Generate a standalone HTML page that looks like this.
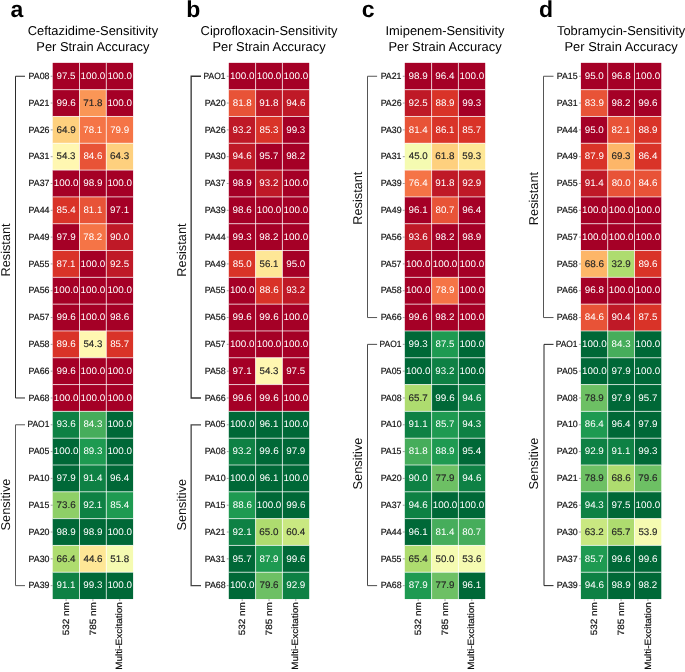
<!DOCTYPE html>
<html><head><meta charset="utf-8"><style>
html,body{margin:0;padding:0;background:#fff;width:685px;height:672px;overflow:hidden}
svg{display:block;will-change:transform;font-family:"Liberation Sans",sans-serif}
</style></head><body>
<svg width="685" height="672" viewBox="0 0 685 672" text-rendering="geometricPrecision">
<rect width="685" height="672" fill="#fff"/>
<text x="10.41" y="16.90" font-size="23" font-weight="bold" fill="#000">a</text>
<text x="92.90" y="34.50" font-size="12.9" text-anchor="middle" fill="#000">Ceftazidime-Sensitivity</text>
<text x="92.90" y="50.70" font-size="12.9" text-anchor="middle" fill="#000">Per Strain Accuracy</text>
<rect x="52.70" y="62.85" width="26.80" height="26.81" fill="#a50026"/>
<rect x="79.50" y="62.85" width="26.80" height="26.81" fill="#a50026"/>
<rect x="106.30" y="62.85" width="26.80" height="26.81" fill="#a50026"/>
<rect x="52.70" y="89.66" width="26.80" height="26.81" fill="#a50026"/>
<rect x="79.50" y="89.66" width="26.80" height="26.81" fill="#fa9656"/>
<rect x="106.30" y="89.66" width="26.80" height="26.81" fill="#a50026"/>
<rect x="52.70" y="116.47" width="26.80" height="26.81" fill="#fed07e"/>
<rect x="79.50" y="116.47" width="26.80" height="26.81" fill="#f57446"/>
<rect x="106.30" y="116.47" width="26.80" height="26.81" fill="#f57446"/>
<rect x="52.70" y="143.28" width="26.80" height="26.81" fill="#fff7b1"/>
<rect x="79.50" y="143.28" width="26.80" height="26.81" fill="#e85337"/>
<rect x="106.30" y="143.28" width="26.80" height="26.81" fill="#fed07e"/>
<rect x="52.70" y="170.09" width="26.80" height="26.81" fill="#a50026"/>
<rect x="79.50" y="170.09" width="26.80" height="26.81" fill="#a50026"/>
<rect x="106.30" y="170.09" width="26.80" height="26.81" fill="#a50026"/>
<rect x="52.70" y="196.90" width="26.80" height="26.81" fill="#d93328"/>
<rect x="79.50" y="196.90" width="26.80" height="26.81" fill="#e85337"/>
<rect x="106.30" y="196.90" width="26.80" height="26.81" fill="#a50026"/>
<rect x="52.70" y="223.71" width="26.80" height="26.81" fill="#a50026"/>
<rect x="79.50" y="223.71" width="26.80" height="26.81" fill="#f57446"/>
<rect x="106.30" y="223.71" width="26.80" height="26.81" fill="#bf1927"/>
<rect x="52.70" y="250.52" width="26.80" height="26.81" fill="#d93328"/>
<rect x="79.50" y="250.52" width="26.80" height="26.81" fill="#a50026"/>
<rect x="106.30" y="250.52" width="26.80" height="26.81" fill="#bf1927"/>
<rect x="52.70" y="277.33" width="26.80" height="26.81" fill="#a50026"/>
<rect x="79.50" y="277.33" width="26.80" height="26.81" fill="#a50026"/>
<rect x="106.30" y="277.33" width="26.80" height="26.81" fill="#a50026"/>
<rect x="52.70" y="304.14" width="26.80" height="26.81" fill="#a50026"/>
<rect x="79.50" y="304.14" width="26.80" height="26.81" fill="#a50026"/>
<rect x="106.30" y="304.14" width="26.80" height="26.81" fill="#a50026"/>
<rect x="52.70" y="330.95" width="26.80" height="26.81" fill="#d93328"/>
<rect x="79.50" y="330.95" width="26.80" height="26.81" fill="#fff7b1"/>
<rect x="106.30" y="330.95" width="26.80" height="26.81" fill="#d93328"/>
<rect x="52.70" y="357.76" width="26.80" height="26.81" fill="#a50026"/>
<rect x="79.50" y="357.76" width="26.80" height="26.81" fill="#a50026"/>
<rect x="106.30" y="357.76" width="26.80" height="26.81" fill="#a50026"/>
<rect x="52.70" y="384.57" width="26.80" height="26.81" fill="#a50026"/>
<rect x="79.50" y="384.57" width="26.80" height="26.81" fill="#a50026"/>
<rect x="106.30" y="384.57" width="26.80" height="26.81" fill="#a50026"/>
<rect x="52.70" y="411.38" width="26.80" height="26.81" fill="#0e8144"/>
<rect x="79.50" y="411.38" width="26.80" height="26.81" fill="#46ad5b"/>
<rect x="106.30" y="411.38" width="26.80" height="26.81" fill="#006837"/>
<rect x="52.70" y="438.19" width="26.80" height="26.81" fill="#006837"/>
<rect x="79.50" y="438.19" width="26.80" height="26.81" fill="#1e9a51"/>
<rect x="106.30" y="438.19" width="26.80" height="26.81" fill="#006837"/>
<rect x="52.70" y="465.00" width="26.80" height="26.81" fill="#006837"/>
<rect x="79.50" y="465.00" width="26.80" height="26.81" fill="#0e8144"/>
<rect x="106.30" y="465.00" width="26.80" height="26.81" fill="#006837"/>
<rect x="52.70" y="491.81" width="26.80" height="26.81" fill="#8ecf67"/>
<rect x="79.50" y="491.81" width="26.80" height="26.81" fill="#0e8144"/>
<rect x="106.30" y="491.81" width="26.80" height="26.81" fill="#1e9a51"/>
<rect x="52.70" y="518.62" width="26.80" height="26.81" fill="#006837"/>
<rect x="79.50" y="518.62" width="26.80" height="26.81" fill="#006837"/>
<rect x="106.30" y="518.62" width="26.80" height="26.81" fill="#006837"/>
<rect x="52.70" y="545.43" width="26.80" height="26.81" fill="#aedc6f"/>
<rect x="79.50" y="545.43" width="26.80" height="26.81" fill="#fee796"/>
<rect x="106.30" y="545.43" width="26.80" height="26.81" fill="#f5fbb1"/>
<rect x="52.70" y="572.24" width="26.80" height="26.81" fill="#0e8144"/>
<rect x="79.50" y="572.24" width="26.80" height="26.81" fill="#006837"/>
<rect x="106.30" y="572.24" width="26.80" height="26.81" fill="#006837"/>
<path d="M79.50,62.85V599.05M106.30,62.85V599.05M52.70,89.66H133.10M52.70,116.47H133.10M52.70,143.28H133.10M52.70,170.09H133.10M52.70,196.90H133.10M52.70,223.71H133.10M52.70,250.52H133.10M52.70,277.33H133.10M52.70,304.14H133.10M52.70,330.95H133.10M52.70,357.76H133.10M52.70,384.57H133.10M52.70,411.38H133.10M52.70,438.19H133.10M52.70,465.00H133.10M52.70,491.81H133.10M52.70,518.62H133.10M52.70,545.43H133.10M52.70,572.24H133.10" stroke="#fff" stroke-width="0.7" fill="none"/>
<text x="66.01" y="78.95" font-size="9.55" text-anchor="middle" textLength="19.056" lengthAdjust="spacingAndGlyphs" fill="#fff">97.5</text>
<text x="92.93" y="78.95" font-size="9.55" text-anchor="middle" textLength="24.657" lengthAdjust="spacingAndGlyphs" fill="#fff">100.0</text>
<text x="119.73" y="78.95" font-size="9.55" text-anchor="middle" textLength="24.657" lengthAdjust="spacingAndGlyphs" fill="#fff">100.0</text>
<text x="39.01" y="78.95" font-size="9.1" text-anchor="middle" textLength="20.913" lengthAdjust="spacingAndGlyphs" fill="#111" stroke="#111" stroke-width="0.2">PA08</text>
<text x="66.11" y="105.77" font-size="9.55" text-anchor="middle" textLength="19.287" lengthAdjust="spacingAndGlyphs" fill="#fff">99.6</text>
<text x="92.92" y="105.77" font-size="9.55" text-anchor="middle" textLength="19.102" lengthAdjust="spacingAndGlyphs" fill="#262626" stroke="#262626" stroke-width="0.15">71.8</text>
<text x="119.73" y="105.77" font-size="9.55" text-anchor="middle" textLength="24.657" lengthAdjust="spacingAndGlyphs" fill="#fff">100.0</text>
<text x="38.97" y="105.77" font-size="9.1" text-anchor="middle" textLength="20.825" lengthAdjust="spacingAndGlyphs" fill="#111" stroke="#111" stroke-width="0.2">PA21</text>
<text x="66.07" y="132.57" font-size="9.55" text-anchor="middle" textLength="19.194" lengthAdjust="spacingAndGlyphs" fill="#262626" stroke="#262626" stroke-width="0.15">64.9</text>
<text x="92.81" y="132.57" font-size="9.55" text-anchor="middle" textLength="18.872" lengthAdjust="spacingAndGlyphs" fill="#fff">78.1</text>
<text x="119.69" y="132.57" font-size="9.55" text-anchor="middle" textLength="19.056" lengthAdjust="spacingAndGlyphs" fill="#fff">79.9</text>
<text x="39.04" y="132.57" font-size="9.1" text-anchor="middle" textLength="21.003" lengthAdjust="spacingAndGlyphs" fill="#111" stroke="#111" stroke-width="0.2">PA26</text>
<text x="66.08" y="159.38" font-size="9.55" text-anchor="middle" textLength="18.908" lengthAdjust="spacingAndGlyphs" fill="#262626" stroke="#262626" stroke-width="0.15">54.3</text>
<text x="92.99" y="159.38" font-size="9.55" text-anchor="middle" textLength="19.137" lengthAdjust="spacingAndGlyphs" fill="#fff">84.6</text>
<text x="119.63" y="159.38" font-size="9.55" text-anchor="middle" textLength="19.102" lengthAdjust="spacingAndGlyphs" fill="#262626" stroke="#262626" stroke-width="0.15">64.3</text>
<text x="38.97" y="159.38" font-size="9.1" text-anchor="middle" textLength="20.825" lengthAdjust="spacingAndGlyphs" fill="#111" stroke="#111" stroke-width="0.2">PA31</text>
<text x="66.13" y="186.19" font-size="9.55" text-anchor="middle" textLength="24.657" lengthAdjust="spacingAndGlyphs" fill="#fff">100.0</text>
<text x="92.87" y="186.19" font-size="9.55" text-anchor="middle" textLength="19.194" lengthAdjust="spacingAndGlyphs" fill="#fff">98.9</text>
<text x="119.73" y="186.19" font-size="9.55" text-anchor="middle" textLength="24.657" lengthAdjust="spacingAndGlyphs" fill="#fff">100.0</text>
<text x="38.99" y="186.19" font-size="9.1" text-anchor="middle" textLength="20.871" lengthAdjust="spacingAndGlyphs" fill="#111" stroke="#111" stroke-width="0.2">PA37</text>
<text x="66.11" y="213.00" font-size="9.55" text-anchor="middle" textLength="18.979" lengthAdjust="spacingAndGlyphs" fill="#fff">85.4</text>
<text x="92.86" y="213.00" font-size="9.55" text-anchor="middle" textLength="18.862" lengthAdjust="spacingAndGlyphs" fill="#fff">81.1</text>
<text x="119.58" y="213.00" font-size="9.55" text-anchor="middle" textLength="19.010" lengthAdjust="spacingAndGlyphs" fill="#fff">97.1</text>
<text x="39.03" y="213.00" font-size="9.1" text-anchor="middle" textLength="20.955" lengthAdjust="spacingAndGlyphs" fill="#111" stroke="#111" stroke-width="0.2">PA44</text>
<text x="66.07" y="239.81" font-size="9.55" text-anchor="middle" textLength="19.194" lengthAdjust="spacingAndGlyphs" fill="#fff">97.9</text>
<text x="92.77" y="239.81" font-size="9.55" text-anchor="middle" textLength="18.780" lengthAdjust="spacingAndGlyphs" fill="#fff">78.2</text>
<text x="119.65" y="239.81" font-size="9.55" text-anchor="middle" textLength="19.137" lengthAdjust="spacingAndGlyphs" fill="#fff">90.0</text>
<text x="39.04" y="239.81" font-size="9.1" text-anchor="middle" textLength="21.007" lengthAdjust="spacingAndGlyphs" fill="#111" stroke="#111" stroke-width="0.2">PA49</text>
<text x="66.06" y="266.62" font-size="9.55" text-anchor="middle" textLength="18.862" lengthAdjust="spacingAndGlyphs" fill="#fff">87.1</text>
<text x="92.93" y="266.62" font-size="9.55" text-anchor="middle" textLength="24.657" lengthAdjust="spacingAndGlyphs" fill="#fff">100.0</text>
<text x="119.61" y="266.62" font-size="9.55" text-anchor="middle" textLength="19.056" lengthAdjust="spacingAndGlyphs" fill="#fff">92.5</text>
<text x="38.94" y="266.62" font-size="9.1" text-anchor="middle" textLength="20.778" lengthAdjust="spacingAndGlyphs" fill="#111" stroke="#111" stroke-width="0.2">PA55</text>
<text x="66.13" y="293.43" font-size="9.55" text-anchor="middle" textLength="24.657" lengthAdjust="spacingAndGlyphs" fill="#fff">100.0</text>
<text x="92.93" y="293.43" font-size="9.55" text-anchor="middle" textLength="24.657" lengthAdjust="spacingAndGlyphs" fill="#fff">100.0</text>
<text x="119.73" y="293.43" font-size="9.55" text-anchor="middle" textLength="24.657" lengthAdjust="spacingAndGlyphs" fill="#fff">100.0</text>
<text x="39.04" y="293.43" font-size="9.1" text-anchor="middle" textLength="21.003" lengthAdjust="spacingAndGlyphs" fill="#111" stroke="#111" stroke-width="0.2">PA56</text>
<text x="66.11" y="320.24" font-size="9.55" text-anchor="middle" textLength="19.287" lengthAdjust="spacingAndGlyphs" fill="#fff">99.6</text>
<text x="92.93" y="320.24" font-size="9.55" text-anchor="middle" textLength="24.657" lengthAdjust="spacingAndGlyphs" fill="#fff">100.0</text>
<text x="119.71" y="320.24" font-size="9.55" text-anchor="middle" textLength="19.287" lengthAdjust="spacingAndGlyphs" fill="#fff">98.6</text>
<text x="38.99" y="320.24" font-size="9.1" text-anchor="middle" textLength="20.871" lengthAdjust="spacingAndGlyphs" fill="#111" stroke="#111" stroke-width="0.2">PA57</text>
<text x="66.18" y="347.05" font-size="9.55" text-anchor="middle" textLength="19.137" lengthAdjust="spacingAndGlyphs" fill="#fff">89.6</text>
<text x="92.88" y="347.05" font-size="9.55" text-anchor="middle" textLength="18.908" lengthAdjust="spacingAndGlyphs" fill="#262626" stroke="#262626" stroke-width="0.15">54.3</text>
<text x="119.68" y="347.05" font-size="9.55" text-anchor="middle" textLength="18.908" lengthAdjust="spacingAndGlyphs" fill="#fff">85.7</text>
<text x="39.03" y="347.05" font-size="9.1" text-anchor="middle" textLength="20.958" lengthAdjust="spacingAndGlyphs" fill="#111" stroke="#111" stroke-width="0.2">PA58</text>
<text x="66.11" y="373.86" font-size="9.55" text-anchor="middle" textLength="19.287" lengthAdjust="spacingAndGlyphs" fill="#fff">99.6</text>
<text x="92.93" y="373.86" font-size="9.55" text-anchor="middle" textLength="24.657" lengthAdjust="spacingAndGlyphs" fill="#fff">100.0</text>
<text x="119.73" y="373.86" font-size="9.55" text-anchor="middle" textLength="24.657" lengthAdjust="spacingAndGlyphs" fill="#fff">100.0</text>
<text x="39.04" y="373.86" font-size="9.1" text-anchor="middle" textLength="21.003" lengthAdjust="spacingAndGlyphs" fill="#111" stroke="#111" stroke-width="0.2">PA66</text>
<text x="66.13" y="400.67" font-size="9.55" text-anchor="middle" textLength="24.657" lengthAdjust="spacingAndGlyphs" fill="#fff">100.0</text>
<text x="92.93" y="400.67" font-size="9.55" text-anchor="middle" textLength="24.657" lengthAdjust="spacingAndGlyphs" fill="#fff">100.0</text>
<text x="119.73" y="400.67" font-size="9.55" text-anchor="middle" textLength="24.657" lengthAdjust="spacingAndGlyphs" fill="#fff">100.0</text>
<text x="39.02" y="400.67" font-size="9.1" text-anchor="middle" textLength="20.958" lengthAdjust="spacingAndGlyphs" fill="#111" stroke="#111" stroke-width="0.2">PA68</text>
<text x="66.12" y="427.48" font-size="9.55" text-anchor="middle" textLength="19.287" lengthAdjust="spacingAndGlyphs" fill="#fff">93.6</text>
<text x="92.90" y="427.48" font-size="9.55" text-anchor="middle" textLength="18.954" lengthAdjust="spacingAndGlyphs" fill="#fff">84.3</text>
<text x="119.73" y="427.48" font-size="9.55" text-anchor="middle" textLength="24.657" lengthAdjust="spacingAndGlyphs" fill="#fff">100.0</text>
<text x="38.39" y="427.48" font-size="9.1" text-anchor="middle" textLength="21.906" lengthAdjust="spacingAndGlyphs" fill="#111" stroke="#111" stroke-width="0.2">PAO1</text>
<text x="66.13" y="454.29" font-size="9.55" text-anchor="middle" textLength="24.657" lengthAdjust="spacingAndGlyphs" fill="#fff">100.0</text>
<text x="92.90" y="454.29" font-size="9.55" text-anchor="middle" textLength="18.954" lengthAdjust="spacingAndGlyphs" fill="#fff">89.3</text>
<text x="119.73" y="454.29" font-size="9.55" text-anchor="middle" textLength="24.657" lengthAdjust="spacingAndGlyphs" fill="#fff">100.0</text>
<text x="38.95" y="454.29" font-size="9.1" text-anchor="middle" textLength="20.778" lengthAdjust="spacingAndGlyphs" fill="#111" stroke="#111" stroke-width="0.2">PA05</text>
<text x="66.07" y="481.10" font-size="9.55" text-anchor="middle" textLength="19.194" lengthAdjust="spacingAndGlyphs" fill="#fff">97.9</text>
<text x="92.84" y="481.10" font-size="9.55" text-anchor="middle" textLength="19.126" lengthAdjust="spacingAndGlyphs" fill="#fff">91.4</text>
<text x="119.64" y="481.10" font-size="9.55" text-anchor="middle" textLength="19.126" lengthAdjust="spacingAndGlyphs" fill="#fff">96.4</text>
<text x="39.03" y="481.10" font-size="9.1" text-anchor="middle" textLength="20.958" lengthAdjust="spacingAndGlyphs" fill="#111" stroke="#111" stroke-width="0.2">PA10</text>
<text x="66.14" y="507.91" font-size="9.55" text-anchor="middle" textLength="19.148" lengthAdjust="spacingAndGlyphs" fill="#262626" stroke="#262626" stroke-width="0.15">73.6</text>
<text x="92.78" y="507.91" font-size="9.55" text-anchor="middle" textLength="19.010" lengthAdjust="spacingAndGlyphs" fill="#fff">92.1</text>
<text x="119.71" y="507.91" font-size="9.55" text-anchor="middle" textLength="18.979" lengthAdjust="spacingAndGlyphs" fill="#fff">85.4</text>
<text x="38.94" y="507.91" font-size="9.1" text-anchor="middle" textLength="20.778" lengthAdjust="spacingAndGlyphs" fill="#111" stroke="#111" stroke-width="0.2">PA15</text>
<text x="66.07" y="534.73" font-size="9.55" text-anchor="middle" textLength="19.194" lengthAdjust="spacingAndGlyphs" fill="#fff">98.9</text>
<text x="92.87" y="534.73" font-size="9.55" text-anchor="middle" textLength="19.194" lengthAdjust="spacingAndGlyphs" fill="#fff">98.9</text>
<text x="119.73" y="534.73" font-size="9.55" text-anchor="middle" textLength="24.657" lengthAdjust="spacingAndGlyphs" fill="#fff">100.0</text>
<text x="39.03" y="534.73" font-size="9.1" text-anchor="middle" textLength="20.958" lengthAdjust="spacingAndGlyphs" fill="#111" stroke="#111" stroke-width="0.2">PA20</text>
<text x="66.04" y="561.53" font-size="9.55" text-anchor="middle" textLength="19.126" lengthAdjust="spacingAndGlyphs" fill="#262626" stroke="#262626" stroke-width="0.15">66.4</text>
<text x="93.00" y="561.53" font-size="9.55" text-anchor="middle" textLength="19.115" lengthAdjust="spacingAndGlyphs" fill="#262626" stroke="#262626" stroke-width="0.15">44.6</text>
<text x="119.75" y="561.53" font-size="9.55" text-anchor="middle" textLength="19.045" lengthAdjust="spacingAndGlyphs" fill="#262626" stroke="#262626" stroke-width="0.15">51.8</text>
<text x="39.04" y="561.53" font-size="9.1" text-anchor="middle" textLength="20.958" lengthAdjust="spacingAndGlyphs" fill="#111" stroke="#111" stroke-width="0.2">PA30</text>
<text x="65.98" y="588.35" font-size="9.55" text-anchor="middle" textLength="19.010" lengthAdjust="spacingAndGlyphs" fill="#fff">91.1</text>
<text x="92.83" y="588.35" font-size="9.55" text-anchor="middle" textLength="19.102" lengthAdjust="spacingAndGlyphs" fill="#fff">99.3</text>
<text x="119.73" y="588.35" font-size="9.55" text-anchor="middle" textLength="24.657" lengthAdjust="spacingAndGlyphs" fill="#fff">100.0</text>
<text x="39.05" y="588.35" font-size="9.1" text-anchor="middle" textLength="21.007" lengthAdjust="spacingAndGlyphs" fill="#111" stroke="#111" stroke-width="0.2">PA39</text>
<text transform="translate(68.70,618.74) rotate(-90)" font-size="9.1" text-anchor="middle" fill="#111" stroke="#111" stroke-width="0.2" textLength="33.206" lengthAdjust="spacingAndGlyphs">532 nm</text>
<text transform="translate(95.50,618.77) rotate(-90)" font-size="9.1" text-anchor="middle" fill="#111" stroke="#111" stroke-width="0.2" textLength="33.264" lengthAdjust="spacingAndGlyphs">785 nm</text>
<text transform="translate(122.30,635.95) rotate(-90)" font-size="9.1" text-anchor="middle" fill="#111" stroke="#111" stroke-width="0.2" textLength="67.735" lengthAdjust="spacingAndGlyphs">Multi-Excitation</text>
<path d="M50.70,76.25H52.70M50.70,103.06H52.70M50.70,129.88H52.70M50.70,156.69H52.70M50.70,183.50H52.70M50.70,210.30H52.70M50.70,237.11H52.70M50.70,263.92H52.70M50.70,290.73H52.70M50.70,317.54H52.70M50.70,344.35H52.70M50.70,371.16H52.70M50.70,397.97H52.70M50.70,424.78H52.70M50.70,451.59H52.70M50.70,478.40H52.70M50.70,505.21H52.70M50.70,532.02H52.70M50.70,558.83H52.70M50.70,585.64H52.70M66.10,599.05V601.05M92.90,599.05V601.05M119.70,599.05V601.05" stroke="#888" stroke-width="0.8" fill="none"/>
<path d="M25.00,76.25H15.50V397.98H25.00" fill="none" stroke="#2b2b2b" stroke-width="1.0"/>
<text transform="translate(9.70,249.96) rotate(-90)" font-size="12.75" text-anchor="middle" fill="#111">Resistant</text>
<path d="M25.00,424.79H15.50V585.64H25.00" fill="none" stroke="#5a5a5a" stroke-width="1.0"/>
<text transform="translate(9.70,504.51) rotate(-90)" font-size="12.75" text-anchor="middle" fill="#111">Sensitive</text>
<text x="186.29" y="16.90" font-size="23" font-weight="bold" fill="#000">b</text>
<text x="269.00" y="34.50" font-size="12.9" text-anchor="middle" fill="#000">Ciprofloxacin-Sensitivity</text>
<text x="269.00" y="50.70" font-size="12.9" text-anchor="middle" fill="#000">Per Strain Accuracy</text>
<rect x="228.80" y="62.85" width="26.80" height="26.81" fill="#a50026"/>
<rect x="255.60" y="62.85" width="26.80" height="26.81" fill="#a50026"/>
<rect x="282.40" y="62.85" width="26.80" height="26.81" fill="#a50026"/>
<rect x="228.80" y="89.66" width="26.80" height="26.81" fill="#e85337"/>
<rect x="255.60" y="89.66" width="26.80" height="26.81" fill="#bf1927"/>
<rect x="282.40" y="89.66" width="26.80" height="26.81" fill="#bf1927"/>
<rect x="228.80" y="116.47" width="26.80" height="26.81" fill="#bf1927"/>
<rect x="255.60" y="116.47" width="26.80" height="26.81" fill="#d93328"/>
<rect x="282.40" y="116.47" width="26.80" height="26.81" fill="#a50026"/>
<rect x="228.80" y="143.28" width="26.80" height="26.81" fill="#bf1927"/>
<rect x="255.60" y="143.28" width="26.80" height="26.81" fill="#a50026"/>
<rect x="282.40" y="143.28" width="26.80" height="26.81" fill="#a50026"/>
<rect x="228.80" y="170.09" width="26.80" height="26.81" fill="#a50026"/>
<rect x="255.60" y="170.09" width="26.80" height="26.81" fill="#bf1927"/>
<rect x="282.40" y="170.09" width="26.80" height="26.81" fill="#a50026"/>
<rect x="228.80" y="196.90" width="26.80" height="26.81" fill="#a50026"/>
<rect x="255.60" y="196.90" width="26.80" height="26.81" fill="#a50026"/>
<rect x="282.40" y="196.90" width="26.80" height="26.81" fill="#a50026"/>
<rect x="228.80" y="223.71" width="26.80" height="26.81" fill="#a50026"/>
<rect x="255.60" y="223.71" width="26.80" height="26.81" fill="#a50026"/>
<rect x="282.40" y="223.71" width="26.80" height="26.81" fill="#a50026"/>
<rect x="228.80" y="250.52" width="26.80" height="26.81" fill="#d93328"/>
<rect x="255.60" y="250.52" width="26.80" height="26.81" fill="#fee796"/>
<rect x="282.40" y="250.52" width="26.80" height="26.81" fill="#a50026"/>
<rect x="228.80" y="277.33" width="26.80" height="26.81" fill="#a50026"/>
<rect x="255.60" y="277.33" width="26.80" height="26.81" fill="#d93328"/>
<rect x="282.40" y="277.33" width="26.80" height="26.81" fill="#bf1927"/>
<rect x="228.80" y="304.14" width="26.80" height="26.81" fill="#a50026"/>
<rect x="255.60" y="304.14" width="26.80" height="26.81" fill="#a50026"/>
<rect x="282.40" y="304.14" width="26.80" height="26.81" fill="#a50026"/>
<rect x="228.80" y="330.95" width="26.80" height="26.81" fill="#a50026"/>
<rect x="255.60" y="330.95" width="26.80" height="26.81" fill="#a50026"/>
<rect x="282.40" y="330.95" width="26.80" height="26.81" fill="#a50026"/>
<rect x="228.80" y="357.76" width="26.80" height="26.81" fill="#a50026"/>
<rect x="255.60" y="357.76" width="26.80" height="26.81" fill="#fff7b1"/>
<rect x="282.40" y="357.76" width="26.80" height="26.81" fill="#a50026"/>
<rect x="228.80" y="384.57" width="26.80" height="26.81" fill="#a50026"/>
<rect x="255.60" y="384.57" width="26.80" height="26.81" fill="#a50026"/>
<rect x="282.40" y="384.57" width="26.80" height="26.81" fill="#a50026"/>
<rect x="228.80" y="411.38" width="26.80" height="26.81" fill="#006837"/>
<rect x="255.60" y="411.38" width="26.80" height="26.81" fill="#006837"/>
<rect x="282.40" y="411.38" width="26.80" height="26.81" fill="#006837"/>
<rect x="228.80" y="438.19" width="26.80" height="26.81" fill="#0e8144"/>
<rect x="255.60" y="438.19" width="26.80" height="26.81" fill="#006837"/>
<rect x="282.40" y="438.19" width="26.80" height="26.81" fill="#006837"/>
<rect x="228.80" y="465.00" width="26.80" height="26.81" fill="#006837"/>
<rect x="255.60" y="465.00" width="26.80" height="26.81" fill="#006837"/>
<rect x="282.40" y="465.00" width="26.80" height="26.81" fill="#006837"/>
<rect x="228.80" y="491.81" width="26.80" height="26.81" fill="#1e9a51"/>
<rect x="255.60" y="491.81" width="26.80" height="26.81" fill="#006837"/>
<rect x="282.40" y="491.81" width="26.80" height="26.81" fill="#006837"/>
<rect x="228.80" y="518.62" width="26.80" height="26.81" fill="#0e8144"/>
<rect x="255.60" y="518.62" width="26.80" height="26.81" fill="#aedc6f"/>
<rect x="282.40" y="518.62" width="26.80" height="26.81" fill="#c9e881"/>
<rect x="228.80" y="545.43" width="26.80" height="26.81" fill="#006837"/>
<rect x="255.60" y="545.43" width="26.80" height="26.81" fill="#1e9a51"/>
<rect x="282.40" y="545.43" width="26.80" height="26.81" fill="#006837"/>
<rect x="228.80" y="572.24" width="26.80" height="26.81" fill="#006837"/>
<rect x="255.60" y="572.24" width="26.80" height="26.81" fill="#6dc064"/>
<rect x="282.40" y="572.24" width="26.80" height="26.81" fill="#0e8144"/>
<path d="M255.60,62.85V599.05M282.40,62.85V599.05M228.80,89.66H309.20M228.80,116.47H309.20M228.80,143.28H309.20M228.80,170.09H309.20M228.80,196.90H309.20M228.80,223.71H309.20M228.80,250.52H309.20M228.80,277.33H309.20M228.80,304.14H309.20M228.80,330.95H309.20M228.80,357.76H309.20M228.80,384.57H309.20M228.80,411.38H309.20M228.80,438.19H309.20M228.80,465.00H309.20M228.80,491.81H309.20M228.80,518.62H309.20M228.80,545.43H309.20M228.80,572.24H309.20" stroke="#fff" stroke-width="0.7" fill="none"/>
<text x="242.23" y="78.95" font-size="9.55" text-anchor="middle" textLength="24.657" lengthAdjust="spacingAndGlyphs" fill="#fff">100.0</text>
<text x="269.03" y="78.95" font-size="9.55" text-anchor="middle" textLength="24.657" lengthAdjust="spacingAndGlyphs" fill="#fff">100.0</text>
<text x="295.83" y="78.95" font-size="9.55" text-anchor="middle" textLength="24.657" lengthAdjust="spacingAndGlyphs" fill="#fff">100.0</text>
<text x="214.49" y="78.95" font-size="9.1" text-anchor="middle" textLength="21.906" lengthAdjust="spacingAndGlyphs" fill="#111" stroke="#111" stroke-width="0.2">PAO1</text>
<text x="242.27" y="105.77" font-size="9.55" text-anchor="middle" textLength="19.091" lengthAdjust="spacingAndGlyphs" fill="#fff">81.8</text>
<text x="268.99" y="105.77" font-size="9.55" text-anchor="middle" textLength="19.240" lengthAdjust="spacingAndGlyphs" fill="#fff">91.8</text>
<text x="295.81" y="105.77" font-size="9.55" text-anchor="middle" textLength="19.287" lengthAdjust="spacingAndGlyphs" fill="#fff">94.6</text>
<text x="215.13" y="105.77" font-size="9.1" text-anchor="middle" textLength="20.958" lengthAdjust="spacingAndGlyphs" fill="#111" stroke="#111" stroke-width="0.2">PA20</text>
<text x="242.04" y="132.57" font-size="9.55" text-anchor="middle" textLength="18.918" lengthAdjust="spacingAndGlyphs" fill="#fff">93.2</text>
<text x="269.00" y="132.57" font-size="9.55" text-anchor="middle" textLength="18.954" lengthAdjust="spacingAndGlyphs" fill="#fff">85.3</text>
<text x="295.73" y="132.57" font-size="9.55" text-anchor="middle" textLength="19.102" lengthAdjust="spacingAndGlyphs" fill="#fff">99.3</text>
<text x="215.14" y="132.57" font-size="9.1" text-anchor="middle" textLength="21.003" lengthAdjust="spacingAndGlyphs" fill="#111" stroke="#111" stroke-width="0.2">PA26</text>
<text x="242.21" y="159.38" font-size="9.55" text-anchor="middle" textLength="19.287" lengthAdjust="spacingAndGlyphs" fill="#fff">94.6</text>
<text x="268.91" y="159.38" font-size="9.55" text-anchor="middle" textLength="19.056" lengthAdjust="spacingAndGlyphs" fill="#fff">95.7</text>
<text x="295.66" y="159.38" font-size="9.55" text-anchor="middle" textLength="18.964" lengthAdjust="spacingAndGlyphs" fill="#fff">98.2</text>
<text x="215.14" y="159.38" font-size="9.1" text-anchor="middle" textLength="20.958" lengthAdjust="spacingAndGlyphs" fill="#111" stroke="#111" stroke-width="0.2">PA30</text>
<text x="242.17" y="186.19" font-size="9.55" text-anchor="middle" textLength="19.194" lengthAdjust="spacingAndGlyphs" fill="#fff">98.9</text>
<text x="268.84" y="186.19" font-size="9.55" text-anchor="middle" textLength="18.918" lengthAdjust="spacingAndGlyphs" fill="#fff">93.2</text>
<text x="295.83" y="186.19" font-size="9.55" text-anchor="middle" textLength="24.657" lengthAdjust="spacingAndGlyphs" fill="#fff">100.0</text>
<text x="215.09" y="186.19" font-size="9.1" text-anchor="middle" textLength="20.871" lengthAdjust="spacingAndGlyphs" fill="#111" stroke="#111" stroke-width="0.2">PA37</text>
<text x="242.21" y="213.00" font-size="9.55" text-anchor="middle" textLength="19.287" lengthAdjust="spacingAndGlyphs" fill="#fff">98.6</text>
<text x="269.03" y="213.00" font-size="9.55" text-anchor="middle" textLength="24.657" lengthAdjust="spacingAndGlyphs" fill="#fff">100.0</text>
<text x="295.83" y="213.00" font-size="9.55" text-anchor="middle" textLength="24.657" lengthAdjust="spacingAndGlyphs" fill="#fff">100.0</text>
<text x="215.15" y="213.00" font-size="9.1" text-anchor="middle" textLength="21.007" lengthAdjust="spacingAndGlyphs" fill="#111" stroke="#111" stroke-width="0.2">PA39</text>
<text x="242.13" y="239.81" font-size="9.55" text-anchor="middle" textLength="19.102" lengthAdjust="spacingAndGlyphs" fill="#fff">99.3</text>
<text x="268.86" y="239.81" font-size="9.55" text-anchor="middle" textLength="18.964" lengthAdjust="spacingAndGlyphs" fill="#fff">98.2</text>
<text x="295.83" y="239.81" font-size="9.55" text-anchor="middle" textLength="24.657" lengthAdjust="spacingAndGlyphs" fill="#fff">100.0</text>
<text x="215.13" y="239.81" font-size="9.1" text-anchor="middle" textLength="20.955" lengthAdjust="spacingAndGlyphs" fill="#111" stroke="#111" stroke-width="0.2">PA44</text>
<text x="242.22" y="266.62" font-size="9.55" text-anchor="middle" textLength="18.989" lengthAdjust="spacingAndGlyphs" fill="#fff">85.0</text>
<text x="268.93" y="266.62" font-size="9.55" text-anchor="middle" textLength="18.817" lengthAdjust="spacingAndGlyphs" fill="#262626" stroke="#262626" stroke-width="0.15">56.1</text>
<text x="295.75" y="266.62" font-size="9.55" text-anchor="middle" textLength="19.137" lengthAdjust="spacingAndGlyphs" fill="#fff">95.0</text>
<text x="215.14" y="266.62" font-size="9.1" text-anchor="middle" textLength="21.007" lengthAdjust="spacingAndGlyphs" fill="#111" stroke="#111" stroke-width="0.2">PA49</text>
<text x="242.23" y="293.43" font-size="9.55" text-anchor="middle" textLength="24.657" lengthAdjust="spacingAndGlyphs" fill="#fff">100.0</text>
<text x="269.09" y="293.43" font-size="9.55" text-anchor="middle" textLength="19.137" lengthAdjust="spacingAndGlyphs" fill="#fff">88.6</text>
<text x="295.64" y="293.43" font-size="9.55" text-anchor="middle" textLength="18.918" lengthAdjust="spacingAndGlyphs" fill="#fff">93.2</text>
<text x="215.04" y="293.43" font-size="9.1" text-anchor="middle" textLength="20.778" lengthAdjust="spacingAndGlyphs" fill="#111" stroke="#111" stroke-width="0.2">PA55</text>
<text x="242.21" y="320.24" font-size="9.55" text-anchor="middle" textLength="19.287" lengthAdjust="spacingAndGlyphs" fill="#fff">99.6</text>
<text x="269.01" y="320.24" font-size="9.55" text-anchor="middle" textLength="19.287" lengthAdjust="spacingAndGlyphs" fill="#fff">99.6</text>
<text x="295.83" y="320.24" font-size="9.55" text-anchor="middle" textLength="24.657" lengthAdjust="spacingAndGlyphs" fill="#fff">100.0</text>
<text x="215.14" y="320.24" font-size="9.1" text-anchor="middle" textLength="21.003" lengthAdjust="spacingAndGlyphs" fill="#111" stroke="#111" stroke-width="0.2">PA56</text>
<text x="242.23" y="347.05" font-size="9.55" text-anchor="middle" textLength="24.657" lengthAdjust="spacingAndGlyphs" fill="#fff">100.0</text>
<text x="269.03" y="347.05" font-size="9.55" text-anchor="middle" textLength="24.657" lengthAdjust="spacingAndGlyphs" fill="#fff">100.0</text>
<text x="295.83" y="347.05" font-size="9.55" text-anchor="middle" textLength="24.657" lengthAdjust="spacingAndGlyphs" fill="#fff">100.0</text>
<text x="215.09" y="347.05" font-size="9.1" text-anchor="middle" textLength="20.871" lengthAdjust="spacingAndGlyphs" fill="#111" stroke="#111" stroke-width="0.2">PA57</text>
<text x="242.08" y="373.86" font-size="9.55" text-anchor="middle" textLength="19.010" lengthAdjust="spacingAndGlyphs" fill="#fff">97.1</text>
<text x="268.98" y="373.86" font-size="9.55" text-anchor="middle" textLength="18.908" lengthAdjust="spacingAndGlyphs" fill="#262626" stroke="#262626" stroke-width="0.15">54.3</text>
<text x="295.71" y="373.86" font-size="9.55" text-anchor="middle" textLength="19.056" lengthAdjust="spacingAndGlyphs" fill="#fff">97.5</text>
<text x="215.13" y="373.86" font-size="9.1" text-anchor="middle" textLength="20.958" lengthAdjust="spacingAndGlyphs" fill="#111" stroke="#111" stroke-width="0.2">PA58</text>
<text x="242.21" y="400.67" font-size="9.55" text-anchor="middle" textLength="19.287" lengthAdjust="spacingAndGlyphs" fill="#fff">99.6</text>
<text x="269.01" y="400.67" font-size="9.55" text-anchor="middle" textLength="19.287" lengthAdjust="spacingAndGlyphs" fill="#fff">99.6</text>
<text x="295.83" y="400.67" font-size="9.55" text-anchor="middle" textLength="24.657" lengthAdjust="spacingAndGlyphs" fill="#fff">100.0</text>
<text x="215.14" y="400.67" font-size="9.1" text-anchor="middle" textLength="21.003" lengthAdjust="spacingAndGlyphs" fill="#111" stroke="#111" stroke-width="0.2">PA66</text>
<text x="242.23" y="427.48" font-size="9.55" text-anchor="middle" textLength="24.657" lengthAdjust="spacingAndGlyphs" fill="#fff">100.0</text>
<text x="268.88" y="427.48" font-size="9.55" text-anchor="middle" textLength="19.010" lengthAdjust="spacingAndGlyphs" fill="#fff">96.1</text>
<text x="295.83" y="427.48" font-size="9.55" text-anchor="middle" textLength="24.657" lengthAdjust="spacingAndGlyphs" fill="#fff">100.0</text>
<text x="215.05" y="427.48" font-size="9.1" text-anchor="middle" textLength="20.778" lengthAdjust="spacingAndGlyphs" fill="#111" stroke="#111" stroke-width="0.2">PA05</text>
<text x="242.04" y="454.29" font-size="9.55" text-anchor="middle" textLength="18.918" lengthAdjust="spacingAndGlyphs" fill="#fff">93.2</text>
<text x="269.01" y="454.29" font-size="9.55" text-anchor="middle" textLength="19.287" lengthAdjust="spacingAndGlyphs" fill="#fff">99.6</text>
<text x="295.77" y="454.29" font-size="9.55" text-anchor="middle" textLength="19.194" lengthAdjust="spacingAndGlyphs" fill="#fff">97.9</text>
<text x="215.11" y="454.29" font-size="9.1" text-anchor="middle" textLength="20.913" lengthAdjust="spacingAndGlyphs" fill="#111" stroke="#111" stroke-width="0.2">PA08</text>
<text x="242.23" y="481.10" font-size="9.55" text-anchor="middle" textLength="24.657" lengthAdjust="spacingAndGlyphs" fill="#fff">100.0</text>
<text x="268.88" y="481.10" font-size="9.55" text-anchor="middle" textLength="19.010" lengthAdjust="spacingAndGlyphs" fill="#fff">96.1</text>
<text x="295.83" y="481.10" font-size="9.55" text-anchor="middle" textLength="24.657" lengthAdjust="spacingAndGlyphs" fill="#fff">100.0</text>
<text x="215.13" y="481.10" font-size="9.1" text-anchor="middle" textLength="20.958" lengthAdjust="spacingAndGlyphs" fill="#111" stroke="#111" stroke-width="0.2">PA10</text>
<text x="242.29" y="507.91" font-size="9.55" text-anchor="middle" textLength="19.137" lengthAdjust="spacingAndGlyphs" fill="#fff">88.6</text>
<text x="269.03" y="507.91" font-size="9.55" text-anchor="middle" textLength="24.657" lengthAdjust="spacingAndGlyphs" fill="#fff">100.0</text>
<text x="295.81" y="507.91" font-size="9.55" text-anchor="middle" textLength="19.287" lengthAdjust="spacingAndGlyphs" fill="#fff">99.6</text>
<text x="215.04" y="507.91" font-size="9.1" text-anchor="middle" textLength="20.778" lengthAdjust="spacingAndGlyphs" fill="#111" stroke="#111" stroke-width="0.2">PA15</text>
<text x="242.08" y="534.73" font-size="9.55" text-anchor="middle" textLength="19.010" lengthAdjust="spacingAndGlyphs" fill="#fff">92.1</text>
<text x="268.95" y="534.73" font-size="9.55" text-anchor="middle" textLength="19.137" lengthAdjust="spacingAndGlyphs" fill="#262626" stroke="#262626" stroke-width="0.15">65.0</text>
<text x="295.74" y="534.73" font-size="9.55" text-anchor="middle" textLength="19.126" lengthAdjust="spacingAndGlyphs" fill="#262626" stroke="#262626" stroke-width="0.15">60.4</text>
<text x="215.07" y="534.73" font-size="9.1" text-anchor="middle" textLength="20.825" lengthAdjust="spacingAndGlyphs" fill="#111" stroke="#111" stroke-width="0.2">PA21</text>
<text x="242.11" y="561.53" font-size="9.55" text-anchor="middle" textLength="19.056" lengthAdjust="spacingAndGlyphs" fill="#fff">95.7</text>
<text x="269.04" y="561.53" font-size="9.55" text-anchor="middle" textLength="19.045" lengthAdjust="spacingAndGlyphs" fill="#fff">87.9</text>
<text x="295.81" y="561.53" font-size="9.55" text-anchor="middle" textLength="19.287" lengthAdjust="spacingAndGlyphs" fill="#fff">99.6</text>
<text x="215.07" y="561.53" font-size="9.1" text-anchor="middle" textLength="20.825" lengthAdjust="spacingAndGlyphs" fill="#111" stroke="#111" stroke-width="0.2">PA31</text>
<text x="242.23" y="588.35" font-size="9.55" text-anchor="middle" textLength="24.657" lengthAdjust="spacingAndGlyphs" fill="#fff">100.0</text>
<text x="269.03" y="588.35" font-size="9.55" text-anchor="middle" textLength="19.148" lengthAdjust="spacingAndGlyphs" fill="#262626" stroke="#262626" stroke-width="0.15">79.6</text>
<text x="295.77" y="588.35" font-size="9.55" text-anchor="middle" textLength="19.194" lengthAdjust="spacingAndGlyphs" fill="#fff">92.9</text>
<text x="215.12" y="588.35" font-size="9.1" text-anchor="middle" textLength="20.958" lengthAdjust="spacingAndGlyphs" fill="#111" stroke="#111" stroke-width="0.2">PA68</text>
<text transform="translate(244.80,618.74) rotate(-90)" font-size="9.1" text-anchor="middle" fill="#111" stroke="#111" stroke-width="0.2" textLength="33.206" lengthAdjust="spacingAndGlyphs">532 nm</text>
<text transform="translate(271.60,618.77) rotate(-90)" font-size="9.1" text-anchor="middle" fill="#111" stroke="#111" stroke-width="0.2" textLength="33.264" lengthAdjust="spacingAndGlyphs">785 nm</text>
<text transform="translate(298.40,635.95) rotate(-90)" font-size="9.1" text-anchor="middle" fill="#111" stroke="#111" stroke-width="0.2" textLength="67.735" lengthAdjust="spacingAndGlyphs">Multi-Excitation</text>
<path d="M226.80,76.25H228.80M226.80,103.06H228.80M226.80,129.88H228.80M226.80,156.69H228.80M226.80,183.50H228.80M226.80,210.30H228.80M226.80,237.11H228.80M226.80,263.92H228.80M226.80,290.73H228.80M226.80,317.54H228.80M226.80,344.35H228.80M226.80,371.16H228.80M226.80,397.97H228.80M226.80,424.78H228.80M226.80,451.59H228.80M226.80,478.40H228.80M226.80,505.21H228.80M226.80,532.02H228.80M226.80,558.83H228.80M226.80,585.64H228.80M242.20,599.05V601.05M269.00,599.05V601.05M295.80,599.05V601.05" stroke="#888" stroke-width="0.8" fill="none"/>
<path d="M201.00,76.25H191.15V397.98H201.00" fill="none" stroke="#333" stroke-width="1.3"/>
<text transform="translate(185.80,250.06) rotate(-90)" font-size="12.75" text-anchor="middle" fill="#111">Resistant</text>
<path d="M201.00,424.79H191.15V585.64H201.00" fill="none" stroke="#444" stroke-width="1.3"/>
<text transform="translate(185.80,504.71) rotate(-90)" font-size="12.75" text-anchor="middle" fill="#111">Sensitive</text>
<text x="361.78" y="16.90" font-size="23" font-weight="bold" fill="#000">c</text>
<text x="445.00" y="34.50" font-size="12.9" text-anchor="middle" fill="#000">Imipenem-Sensitivity</text>
<text x="445.00" y="50.70" font-size="12.9" text-anchor="middle" fill="#000">Per Strain Accuracy</text>
<rect x="404.80" y="62.85" width="26.80" height="26.81" fill="#a50026"/>
<rect x="431.60" y="62.85" width="26.80" height="26.81" fill="#a50026"/>
<rect x="458.40" y="62.85" width="26.80" height="26.81" fill="#a50026"/>
<rect x="404.80" y="89.66" width="26.80" height="26.81" fill="#bf1927"/>
<rect x="431.60" y="89.66" width="26.80" height="26.81" fill="#d93328"/>
<rect x="458.40" y="89.66" width="26.80" height="26.81" fill="#a50026"/>
<rect x="404.80" y="116.47" width="26.80" height="26.81" fill="#e85337"/>
<rect x="431.60" y="116.47" width="26.80" height="26.81" fill="#d93328"/>
<rect x="458.40" y="116.47" width="26.80" height="26.81" fill="#d93328"/>
<rect x="404.80" y="143.28" width="26.80" height="26.81" fill="#f5fbb1"/>
<rect x="431.60" y="143.28" width="26.80" height="26.81" fill="#fed07e"/>
<rect x="458.40" y="143.28" width="26.80" height="26.81" fill="#fee796"/>
<rect x="404.80" y="170.09" width="26.80" height="26.81" fill="#f57446"/>
<rect x="431.60" y="170.09" width="26.80" height="26.81" fill="#bf1927"/>
<rect x="458.40" y="170.09" width="26.80" height="26.81" fill="#bf1927"/>
<rect x="404.80" y="196.90" width="26.80" height="26.81" fill="#a50026"/>
<rect x="431.60" y="196.90" width="26.80" height="26.81" fill="#e85337"/>
<rect x="458.40" y="196.90" width="26.80" height="26.81" fill="#a50026"/>
<rect x="404.80" y="223.71" width="26.80" height="26.81" fill="#bf1927"/>
<rect x="431.60" y="223.71" width="26.80" height="26.81" fill="#a50026"/>
<rect x="458.40" y="223.71" width="26.80" height="26.81" fill="#a50026"/>
<rect x="404.80" y="250.52" width="26.80" height="26.81" fill="#a50026"/>
<rect x="431.60" y="250.52" width="26.80" height="26.81" fill="#a50026"/>
<rect x="458.40" y="250.52" width="26.80" height="26.81" fill="#a50026"/>
<rect x="404.80" y="277.33" width="26.80" height="26.81" fill="#a50026"/>
<rect x="431.60" y="277.33" width="26.80" height="26.81" fill="#f57446"/>
<rect x="458.40" y="277.33" width="26.80" height="26.81" fill="#a50026"/>
<rect x="404.80" y="304.14" width="26.80" height="26.81" fill="#a50026"/>
<rect x="431.60" y="304.14" width="26.80" height="26.81" fill="#a50026"/>
<rect x="458.40" y="304.14" width="26.80" height="26.81" fill="#a50026"/>
<rect x="404.80" y="330.95" width="26.80" height="26.81" fill="#006837"/>
<rect x="431.60" y="330.95" width="26.80" height="26.81" fill="#1e9a51"/>
<rect x="458.40" y="330.95" width="26.80" height="26.81" fill="#006837"/>
<rect x="404.80" y="357.76" width="26.80" height="26.81" fill="#006837"/>
<rect x="431.60" y="357.76" width="26.80" height="26.81" fill="#0e8144"/>
<rect x="458.40" y="357.76" width="26.80" height="26.81" fill="#006837"/>
<rect x="404.80" y="384.57" width="26.80" height="26.81" fill="#aedc6f"/>
<rect x="431.60" y="384.57" width="26.80" height="26.81" fill="#006837"/>
<rect x="458.40" y="384.57" width="26.80" height="26.81" fill="#0e8144"/>
<rect x="404.80" y="411.38" width="26.80" height="26.81" fill="#0e8144"/>
<rect x="431.60" y="411.38" width="26.80" height="26.81" fill="#1e9a51"/>
<rect x="458.40" y="411.38" width="26.80" height="26.81" fill="#0e8144"/>
<rect x="404.80" y="438.19" width="26.80" height="26.81" fill="#46ad5b"/>
<rect x="431.60" y="438.19" width="26.80" height="26.81" fill="#1e9a51"/>
<rect x="458.40" y="438.19" width="26.80" height="26.81" fill="#006837"/>
<rect x="404.80" y="465.00" width="26.80" height="26.81" fill="#0e8144"/>
<rect x="431.60" y="465.00" width="26.80" height="26.81" fill="#6dc064"/>
<rect x="458.40" y="465.00" width="26.80" height="26.81" fill="#0e8144"/>
<rect x="404.80" y="491.81" width="26.80" height="26.81" fill="#0e8144"/>
<rect x="431.60" y="491.81" width="26.80" height="26.81" fill="#006837"/>
<rect x="458.40" y="491.81" width="26.80" height="26.81" fill="#006837"/>
<rect x="404.80" y="518.62" width="26.80" height="26.81" fill="#006837"/>
<rect x="431.60" y="518.62" width="26.80" height="26.81" fill="#46ad5b"/>
<rect x="458.40" y="518.62" width="26.80" height="26.81" fill="#46ad5b"/>
<rect x="404.80" y="545.43" width="26.80" height="26.81" fill="#aedc6f"/>
<rect x="431.60" y="545.43" width="26.80" height="26.81" fill="#f5fbb1"/>
<rect x="458.40" y="545.43" width="26.80" height="26.81" fill="#f5fbb1"/>
<rect x="404.80" y="572.24" width="26.80" height="26.81" fill="#1e9a51"/>
<rect x="431.60" y="572.24" width="26.80" height="26.81" fill="#6dc064"/>
<rect x="458.40" y="572.24" width="26.80" height="26.81" fill="#006837"/>
<path d="M431.60,62.85V599.05M458.40,62.85V599.05M404.80,89.66H485.20M404.80,116.47H485.20M404.80,143.28H485.20M404.80,170.09H485.20M404.80,196.90H485.20M404.80,223.71H485.20M404.80,250.52H485.20M404.80,277.33H485.20M404.80,304.14H485.20M404.80,330.95H485.20M404.80,357.76H485.20M404.80,384.57H485.20M404.80,411.38H485.20M404.80,438.19H485.20M404.80,465.00H485.20M404.80,491.81H485.20M404.80,518.62H485.20M404.80,545.43H485.20M404.80,572.24H485.20" stroke="#fff" stroke-width="0.7" fill="none"/>
<text x="418.17" y="78.95" font-size="9.55" text-anchor="middle" textLength="19.194" lengthAdjust="spacingAndGlyphs" fill="#fff">98.9</text>
<text x="444.94" y="78.95" font-size="9.55" text-anchor="middle" textLength="19.126" lengthAdjust="spacingAndGlyphs" fill="#fff">96.4</text>
<text x="471.83" y="78.95" font-size="9.55" text-anchor="middle" textLength="24.657" lengthAdjust="spacingAndGlyphs" fill="#fff">100.0</text>
<text x="391.07" y="78.95" font-size="9.1" text-anchor="middle" textLength="20.825" lengthAdjust="spacingAndGlyphs" fill="#111" stroke="#111" stroke-width="0.2">PA21</text>
<text x="418.11" y="105.77" font-size="9.55" text-anchor="middle" textLength="19.056" lengthAdjust="spacingAndGlyphs" fill="#fff">92.5</text>
<text x="445.04" y="105.77" font-size="9.55" text-anchor="middle" textLength="19.045" lengthAdjust="spacingAndGlyphs" fill="#fff">88.9</text>
<text x="471.73" y="105.77" font-size="9.55" text-anchor="middle" textLength="19.102" lengthAdjust="spacingAndGlyphs" fill="#fff">99.3</text>
<text x="391.14" y="105.77" font-size="9.1" text-anchor="middle" textLength="21.003" lengthAdjust="spacingAndGlyphs" fill="#111" stroke="#111" stroke-width="0.2">PA26</text>
<text x="418.21" y="132.57" font-size="9.55" text-anchor="middle" textLength="18.979" lengthAdjust="spacingAndGlyphs" fill="#fff">81.4</text>
<text x="444.95" y="132.57" font-size="9.55" text-anchor="middle" textLength="18.862" lengthAdjust="spacingAndGlyphs" fill="#fff">86.1</text>
<text x="471.78" y="132.57" font-size="9.55" text-anchor="middle" textLength="18.908" lengthAdjust="spacingAndGlyphs" fill="#fff">85.7</text>
<text x="391.14" y="132.57" font-size="9.1" text-anchor="middle" textLength="20.958" lengthAdjust="spacingAndGlyphs" fill="#111" stroke="#111" stroke-width="0.2">PA30</text>
<text x="418.23" y="159.38" font-size="9.55" text-anchor="middle" textLength="18.968" lengthAdjust="spacingAndGlyphs" fill="#262626" stroke="#262626" stroke-width="0.15">45.0</text>
<text x="444.99" y="159.38" font-size="9.55" text-anchor="middle" textLength="19.240" lengthAdjust="spacingAndGlyphs" fill="#262626" stroke="#262626" stroke-width="0.15">61.8</text>
<text x="471.78" y="159.38" font-size="9.55" text-anchor="middle" textLength="18.908" lengthAdjust="spacingAndGlyphs" fill="#262626" stroke="#262626" stroke-width="0.15">59.3</text>
<text x="391.07" y="159.38" font-size="9.1" text-anchor="middle" textLength="20.825" lengthAdjust="spacingAndGlyphs" fill="#111" stroke="#111" stroke-width="0.2">PA31</text>
<text x="418.16" y="186.19" font-size="9.55" text-anchor="middle" textLength="18.989" lengthAdjust="spacingAndGlyphs" fill="#fff">76.4</text>
<text x="444.99" y="186.19" font-size="9.55" text-anchor="middle" textLength="19.240" lengthAdjust="spacingAndGlyphs" fill="#fff">91.8</text>
<text x="471.77" y="186.19" font-size="9.55" text-anchor="middle" textLength="19.194" lengthAdjust="spacingAndGlyphs" fill="#fff">92.9</text>
<text x="391.15" y="186.19" font-size="9.1" text-anchor="middle" textLength="21.007" lengthAdjust="spacingAndGlyphs" fill="#111" stroke="#111" stroke-width="0.2">PA39</text>
<text x="418.08" y="213.00" font-size="9.55" text-anchor="middle" textLength="19.010" lengthAdjust="spacingAndGlyphs" fill="#fff">96.1</text>
<text x="444.98" y="213.00" font-size="9.55" text-anchor="middle" textLength="18.908" lengthAdjust="spacingAndGlyphs" fill="#fff">80.7</text>
<text x="471.74" y="213.00" font-size="9.55" text-anchor="middle" textLength="19.126" lengthAdjust="spacingAndGlyphs" fill="#fff">96.4</text>
<text x="391.14" y="213.00" font-size="9.1" text-anchor="middle" textLength="21.007" lengthAdjust="spacingAndGlyphs" fill="#111" stroke="#111" stroke-width="0.2">PA49</text>
<text x="418.22" y="239.81" font-size="9.55" text-anchor="middle" textLength="19.287" lengthAdjust="spacingAndGlyphs" fill="#fff">93.6</text>
<text x="444.86" y="239.81" font-size="9.55" text-anchor="middle" textLength="18.964" lengthAdjust="spacingAndGlyphs" fill="#fff">98.2</text>
<text x="471.77" y="239.81" font-size="9.55" text-anchor="middle" textLength="19.194" lengthAdjust="spacingAndGlyphs" fill="#fff">98.9</text>
<text x="391.14" y="239.81" font-size="9.1" text-anchor="middle" textLength="21.003" lengthAdjust="spacingAndGlyphs" fill="#111" stroke="#111" stroke-width="0.2">PA56</text>
<text x="418.23" y="266.62" font-size="9.55" text-anchor="middle" textLength="24.657" lengthAdjust="spacingAndGlyphs" fill="#fff">100.0</text>
<text x="445.03" y="266.62" font-size="9.55" text-anchor="middle" textLength="24.657" lengthAdjust="spacingAndGlyphs" fill="#fff">100.0</text>
<text x="471.83" y="266.62" font-size="9.55" text-anchor="middle" textLength="24.657" lengthAdjust="spacingAndGlyphs" fill="#fff">100.0</text>
<text x="391.09" y="266.62" font-size="9.1" text-anchor="middle" textLength="20.871" lengthAdjust="spacingAndGlyphs" fill="#111" stroke="#111" stroke-width="0.2">PA57</text>
<text x="418.23" y="293.43" font-size="9.55" text-anchor="middle" textLength="24.657" lengthAdjust="spacingAndGlyphs" fill="#fff">100.0</text>
<text x="444.99" y="293.43" font-size="9.55" text-anchor="middle" textLength="19.056" lengthAdjust="spacingAndGlyphs" fill="#fff">78.9</text>
<text x="471.83" y="293.43" font-size="9.55" text-anchor="middle" textLength="24.657" lengthAdjust="spacingAndGlyphs" fill="#fff">100.0</text>
<text x="391.13" y="293.43" font-size="9.1" text-anchor="middle" textLength="20.958" lengthAdjust="spacingAndGlyphs" fill="#111" stroke="#111" stroke-width="0.2">PA58</text>
<text x="418.21" y="320.24" font-size="9.55" text-anchor="middle" textLength="19.287" lengthAdjust="spacingAndGlyphs" fill="#fff">99.6</text>
<text x="444.86" y="320.24" font-size="9.55" text-anchor="middle" textLength="18.964" lengthAdjust="spacingAndGlyphs" fill="#fff">98.2</text>
<text x="471.83" y="320.24" font-size="9.55" text-anchor="middle" textLength="24.657" lengthAdjust="spacingAndGlyphs" fill="#fff">100.0</text>
<text x="391.14" y="320.24" font-size="9.1" text-anchor="middle" textLength="21.003" lengthAdjust="spacingAndGlyphs" fill="#111" stroke="#111" stroke-width="0.2">PA66</text>
<text x="418.13" y="347.05" font-size="9.55" text-anchor="middle" textLength="19.102" lengthAdjust="spacingAndGlyphs" fill="#fff">99.3</text>
<text x="444.98" y="347.05" font-size="9.55" text-anchor="middle" textLength="18.908" lengthAdjust="spacingAndGlyphs" fill="#fff">87.5</text>
<text x="471.83" y="347.05" font-size="9.55" text-anchor="middle" textLength="24.657" lengthAdjust="spacingAndGlyphs" fill="#fff">100.0</text>
<text x="390.49" y="347.05" font-size="9.1" text-anchor="middle" textLength="21.906" lengthAdjust="spacingAndGlyphs" fill="#111" stroke="#111" stroke-width="0.2">PAO1</text>
<text x="418.23" y="373.86" font-size="9.55" text-anchor="middle" textLength="24.657" lengthAdjust="spacingAndGlyphs" fill="#fff">100.0</text>
<text x="444.84" y="373.86" font-size="9.55" text-anchor="middle" textLength="18.918" lengthAdjust="spacingAndGlyphs" fill="#fff">93.2</text>
<text x="471.83" y="373.86" font-size="9.55" text-anchor="middle" textLength="24.657" lengthAdjust="spacingAndGlyphs" fill="#fff">100.0</text>
<text x="391.05" y="373.86" font-size="9.1" text-anchor="middle" textLength="20.778" lengthAdjust="spacingAndGlyphs" fill="#111" stroke="#111" stroke-width="0.2">PA05</text>
<text x="418.11" y="400.67" font-size="9.55" text-anchor="middle" textLength="19.056" lengthAdjust="spacingAndGlyphs" fill="#262626" stroke="#262626" stroke-width="0.15">65.7</text>
<text x="445.01" y="400.67" font-size="9.55" text-anchor="middle" textLength="19.287" lengthAdjust="spacingAndGlyphs" fill="#fff">99.6</text>
<text x="471.81" y="400.67" font-size="9.55" text-anchor="middle" textLength="19.287" lengthAdjust="spacingAndGlyphs" fill="#fff">94.6</text>
<text x="391.11" y="400.67" font-size="9.1" text-anchor="middle" textLength="20.913" lengthAdjust="spacingAndGlyphs" fill="#111" stroke="#111" stroke-width="0.2">PA08</text>
<text x="418.08" y="427.48" font-size="9.55" text-anchor="middle" textLength="19.010" lengthAdjust="spacingAndGlyphs" fill="#fff">91.1</text>
<text x="444.98" y="427.48" font-size="9.55" text-anchor="middle" textLength="18.908" lengthAdjust="spacingAndGlyphs" fill="#fff">85.7</text>
<text x="471.73" y="427.48" font-size="9.55" text-anchor="middle" textLength="19.102" lengthAdjust="spacingAndGlyphs" fill="#fff">94.3</text>
<text x="391.13" y="427.48" font-size="9.1" text-anchor="middle" textLength="20.958" lengthAdjust="spacingAndGlyphs" fill="#111" stroke="#111" stroke-width="0.2">PA10</text>
<text x="418.27" y="454.29" font-size="9.55" text-anchor="middle" textLength="19.091" lengthAdjust="spacingAndGlyphs" fill="#fff">81.8</text>
<text x="445.04" y="454.29" font-size="9.55" text-anchor="middle" textLength="19.045" lengthAdjust="spacingAndGlyphs" fill="#fff">88.9</text>
<text x="471.74" y="454.29" font-size="9.55" text-anchor="middle" textLength="19.126" lengthAdjust="spacingAndGlyphs" fill="#fff">95.4</text>
<text x="391.04" y="454.29" font-size="9.1" text-anchor="middle" textLength="20.778" lengthAdjust="spacingAndGlyphs" fill="#111" stroke="#111" stroke-width="0.2">PA15</text>
<text x="418.15" y="481.10" font-size="9.55" text-anchor="middle" textLength="19.137" lengthAdjust="spacingAndGlyphs" fill="#fff">90.0</text>
<text x="444.99" y="481.10" font-size="9.55" text-anchor="middle" textLength="19.056" lengthAdjust="spacingAndGlyphs" fill="#262626" stroke="#262626" stroke-width="0.15">77.9</text>
<text x="471.81" y="481.10" font-size="9.55" text-anchor="middle" textLength="19.287" lengthAdjust="spacingAndGlyphs" fill="#fff">94.6</text>
<text x="391.13" y="481.10" font-size="9.1" text-anchor="middle" textLength="20.958" lengthAdjust="spacingAndGlyphs" fill="#111" stroke="#111" stroke-width="0.2">PA20</text>
<text x="418.21" y="507.91" font-size="9.55" text-anchor="middle" textLength="19.287" lengthAdjust="spacingAndGlyphs" fill="#fff">94.6</text>
<text x="445.03" y="507.91" font-size="9.55" text-anchor="middle" textLength="24.657" lengthAdjust="spacingAndGlyphs" fill="#fff">100.0</text>
<text x="471.83" y="507.91" font-size="9.55" text-anchor="middle" textLength="24.657" lengthAdjust="spacingAndGlyphs" fill="#fff">100.0</text>
<text x="391.09" y="507.91" font-size="9.1" text-anchor="middle" textLength="20.871" lengthAdjust="spacingAndGlyphs" fill="#111" stroke="#111" stroke-width="0.2">PA37</text>
<text x="418.08" y="534.73" font-size="9.55" text-anchor="middle" textLength="19.010" lengthAdjust="spacingAndGlyphs" fill="#fff">96.1</text>
<text x="445.01" y="534.73" font-size="9.55" text-anchor="middle" textLength="18.979" lengthAdjust="spacingAndGlyphs" fill="#fff">81.4</text>
<text x="471.78" y="534.73" font-size="9.55" text-anchor="middle" textLength="18.908" lengthAdjust="spacingAndGlyphs" fill="#fff">80.7</text>
<text x="391.13" y="534.73" font-size="9.1" text-anchor="middle" textLength="20.955" lengthAdjust="spacingAndGlyphs" fill="#111" stroke="#111" stroke-width="0.2">PA44</text>
<text x="418.14" y="561.53" font-size="9.55" text-anchor="middle" textLength="19.126" lengthAdjust="spacingAndGlyphs" fill="#262626" stroke="#262626" stroke-width="0.15">65.4</text>
<text x="445.00" y="561.53" font-size="9.55" text-anchor="middle" textLength="18.944" lengthAdjust="spacingAndGlyphs" fill="#262626" stroke="#262626" stroke-width="0.15">50.0</text>
<text x="471.87" y="561.53" font-size="9.55" text-anchor="middle" textLength="19.091" lengthAdjust="spacingAndGlyphs" fill="#262626" stroke="#262626" stroke-width="0.15">53.6</text>
<text x="391.04" y="561.53" font-size="9.1" text-anchor="middle" textLength="20.778" lengthAdjust="spacingAndGlyphs" fill="#111" stroke="#111" stroke-width="0.2">PA55</text>
<text x="418.24" y="588.35" font-size="9.55" text-anchor="middle" textLength="19.045" lengthAdjust="spacingAndGlyphs" fill="#fff">87.9</text>
<text x="444.99" y="588.35" font-size="9.55" text-anchor="middle" textLength="19.056" lengthAdjust="spacingAndGlyphs" fill="#262626" stroke="#262626" stroke-width="0.15">77.9</text>
<text x="471.68" y="588.35" font-size="9.55" text-anchor="middle" textLength="19.010" lengthAdjust="spacingAndGlyphs" fill="#fff">96.1</text>
<text x="391.12" y="588.35" font-size="9.1" text-anchor="middle" textLength="20.958" lengthAdjust="spacingAndGlyphs" fill="#111" stroke="#111" stroke-width="0.2">PA68</text>
<text transform="translate(420.80,618.74) rotate(-90)" font-size="9.1" text-anchor="middle" fill="#111" stroke="#111" stroke-width="0.2" textLength="33.206" lengthAdjust="spacingAndGlyphs">532 nm</text>
<text transform="translate(447.60,618.77) rotate(-90)" font-size="9.1" text-anchor="middle" fill="#111" stroke="#111" stroke-width="0.2" textLength="33.264" lengthAdjust="spacingAndGlyphs">785 nm</text>
<text transform="translate(474.40,635.95) rotate(-90)" font-size="9.1" text-anchor="middle" fill="#111" stroke="#111" stroke-width="0.2" textLength="67.735" lengthAdjust="spacingAndGlyphs">Multi-Excitation</text>
<path d="M402.80,76.25H404.80M402.80,103.06H404.80M402.80,129.88H404.80M402.80,156.69H404.80M402.80,183.50H404.80M402.80,210.30H404.80M402.80,237.11H404.80M402.80,263.92H404.80M402.80,290.73H404.80M402.80,317.54H404.80M402.80,344.35H404.80M402.80,371.16H404.80M402.80,397.97H404.80M402.80,424.78H404.80M402.80,451.59H404.80M402.80,478.40H404.80M402.80,505.21H404.80M402.80,532.02H404.80M402.80,558.83H404.80M402.80,585.64H404.80M418.20,599.05V601.05M445.00,599.05V601.05M471.80,599.05V601.05" stroke="#888" stroke-width="0.8" fill="none"/>
<path d="M377.10,76.25H367.50V317.55H377.10" fill="none" stroke="#555" stroke-width="1.0"/>
<text transform="translate(361.80,198.16) rotate(-90)" font-size="12.75" text-anchor="middle" fill="#111">Resistant</text>
<path d="M377.10,344.36H367.50V585.64H377.10" fill="none" stroke="#4a4a4a" stroke-width="1.0"/>
<text transform="translate(361.80,463.51) rotate(-90)" font-size="12.75" text-anchor="middle" fill="#111">Sensitive</text>
<text x="538.88" y="16.90" font-size="23" font-weight="bold" fill="#000">d</text>
<text x="621.10" y="34.50" font-size="12.9" text-anchor="middle" fill="#000">Tobramycin-Sensitivity</text>
<text x="621.10" y="50.70" font-size="12.9" text-anchor="middle" fill="#000">Per Strain Accuracy</text>
<rect x="580.90" y="62.85" width="26.80" height="26.81" fill="#a50026"/>
<rect x="607.70" y="62.85" width="26.80" height="26.81" fill="#a50026"/>
<rect x="634.50" y="62.85" width="26.80" height="26.81" fill="#a50026"/>
<rect x="580.90" y="89.66" width="26.80" height="26.81" fill="#e85337"/>
<rect x="607.70" y="89.66" width="26.80" height="26.81" fill="#a50026"/>
<rect x="634.50" y="89.66" width="26.80" height="26.81" fill="#a50026"/>
<rect x="580.90" y="116.47" width="26.80" height="26.81" fill="#a50026"/>
<rect x="607.70" y="116.47" width="26.80" height="26.81" fill="#e85337"/>
<rect x="634.50" y="116.47" width="26.80" height="26.81" fill="#d93328"/>
<rect x="580.90" y="143.28" width="26.80" height="26.81" fill="#d93328"/>
<rect x="607.70" y="143.28" width="26.80" height="26.81" fill="#fdb668"/>
<rect x="634.50" y="143.28" width="26.80" height="26.81" fill="#d93328"/>
<rect x="580.90" y="170.09" width="26.80" height="26.81" fill="#bf1927"/>
<rect x="607.70" y="170.09" width="26.80" height="26.81" fill="#e85337"/>
<rect x="634.50" y="170.09" width="26.80" height="26.81" fill="#e85337"/>
<rect x="580.90" y="196.90" width="26.80" height="26.81" fill="#a50026"/>
<rect x="607.70" y="196.90" width="26.80" height="26.81" fill="#a50026"/>
<rect x="634.50" y="196.90" width="26.80" height="26.81" fill="#a50026"/>
<rect x="580.90" y="223.71" width="26.80" height="26.81" fill="#a50026"/>
<rect x="607.70" y="223.71" width="26.80" height="26.81" fill="#a50026"/>
<rect x="634.50" y="223.71" width="26.80" height="26.81" fill="#a50026"/>
<rect x="580.90" y="250.52" width="26.80" height="26.81" fill="#fdb668"/>
<rect x="607.70" y="250.52" width="26.80" height="26.81" fill="#aedc6f"/>
<rect x="634.50" y="250.52" width="26.80" height="26.81" fill="#d93328"/>
<rect x="580.90" y="277.33" width="26.80" height="26.81" fill="#a50026"/>
<rect x="607.70" y="277.33" width="26.80" height="26.81" fill="#a50026"/>
<rect x="634.50" y="277.33" width="26.80" height="26.81" fill="#a50026"/>
<rect x="580.90" y="304.14" width="26.80" height="26.81" fill="#e85337"/>
<rect x="607.70" y="304.14" width="26.80" height="26.81" fill="#bf1927"/>
<rect x="634.50" y="304.14" width="26.80" height="26.81" fill="#d93328"/>
<rect x="580.90" y="330.95" width="26.80" height="26.81" fill="#006837"/>
<rect x="607.70" y="330.95" width="26.80" height="26.81" fill="#46ad5b"/>
<rect x="634.50" y="330.95" width="26.80" height="26.81" fill="#006837"/>
<rect x="580.90" y="357.76" width="26.80" height="26.81" fill="#006837"/>
<rect x="607.70" y="357.76" width="26.80" height="26.81" fill="#006837"/>
<rect x="634.50" y="357.76" width="26.80" height="26.81" fill="#006837"/>
<rect x="580.90" y="384.57" width="26.80" height="26.81" fill="#6dc064"/>
<rect x="607.70" y="384.57" width="26.80" height="26.81" fill="#006837"/>
<rect x="634.50" y="384.57" width="26.80" height="26.81" fill="#006837"/>
<rect x="580.90" y="411.38" width="26.80" height="26.81" fill="#1e9a51"/>
<rect x="607.70" y="411.38" width="26.80" height="26.81" fill="#006837"/>
<rect x="634.50" y="411.38" width="26.80" height="26.81" fill="#006837"/>
<rect x="580.90" y="438.19" width="26.80" height="26.81" fill="#0e8144"/>
<rect x="607.70" y="438.19" width="26.80" height="26.81" fill="#0e8144"/>
<rect x="634.50" y="438.19" width="26.80" height="26.81" fill="#006837"/>
<rect x="580.90" y="465.00" width="26.80" height="26.81" fill="#6dc064"/>
<rect x="607.70" y="465.00" width="26.80" height="26.81" fill="#aedc6f"/>
<rect x="634.50" y="465.00" width="26.80" height="26.81" fill="#6dc064"/>
<rect x="580.90" y="491.81" width="26.80" height="26.81" fill="#0e8144"/>
<rect x="607.70" y="491.81" width="26.80" height="26.81" fill="#006837"/>
<rect x="634.50" y="491.81" width="26.80" height="26.81" fill="#006837"/>
<rect x="580.90" y="518.62" width="26.80" height="26.81" fill="#c9e881"/>
<rect x="607.70" y="518.62" width="26.80" height="26.81" fill="#aedc6f"/>
<rect x="634.50" y="518.62" width="26.80" height="26.81" fill="#f5fbb1"/>
<rect x="580.90" y="545.43" width="26.80" height="26.81" fill="#1e9a51"/>
<rect x="607.70" y="545.43" width="26.80" height="26.81" fill="#006837"/>
<rect x="634.50" y="545.43" width="26.80" height="26.81" fill="#006837"/>
<rect x="580.90" y="572.24" width="26.80" height="26.81" fill="#0e8144"/>
<rect x="607.70" y="572.24" width="26.80" height="26.81" fill="#006837"/>
<rect x="634.50" y="572.24" width="26.80" height="26.81" fill="#006837"/>
<path d="M607.70,62.85V599.05M634.50,62.85V599.05M580.90,89.66H661.30M580.90,116.47H661.30M580.90,143.28H661.30M580.90,170.09H661.30M580.90,196.90H661.30M580.90,223.71H661.30M580.90,250.52H661.30M580.90,277.33H661.30M580.90,304.14H661.30M580.90,330.95H661.30M580.90,357.76H661.30M580.90,384.57H661.30M580.90,411.38H661.30M580.90,438.19H661.30M580.90,465.00H661.30M580.90,491.81H661.30M580.90,518.62H661.30M580.90,545.43H661.30M580.90,572.24H661.30" stroke="#fff" stroke-width="0.7" fill="none"/>
<text x="594.25" y="78.95" font-size="9.55" text-anchor="middle" textLength="19.137" lengthAdjust="spacingAndGlyphs" fill="#fff">95.0</text>
<text x="621.09" y="78.95" font-size="9.55" text-anchor="middle" textLength="19.240" lengthAdjust="spacingAndGlyphs" fill="#fff">96.8</text>
<text x="647.93" y="78.95" font-size="9.55" text-anchor="middle" textLength="24.657" lengthAdjust="spacingAndGlyphs" fill="#fff">100.0</text>
<text x="567.14" y="78.95" font-size="9.1" text-anchor="middle" textLength="20.778" lengthAdjust="spacingAndGlyphs" fill="#111" stroke="#111" stroke-width="0.2">PA15</text>
<text x="594.35" y="105.77" font-size="9.55" text-anchor="middle" textLength="19.045" lengthAdjust="spacingAndGlyphs" fill="#fff">83.9</text>
<text x="620.96" y="105.77" font-size="9.55" text-anchor="middle" textLength="18.964" lengthAdjust="spacingAndGlyphs" fill="#fff">98.2</text>
<text x="647.91" y="105.77" font-size="9.55" text-anchor="middle" textLength="19.287" lengthAdjust="spacingAndGlyphs" fill="#fff">99.6</text>
<text x="567.17" y="105.77" font-size="9.1" text-anchor="middle" textLength="20.825" lengthAdjust="spacingAndGlyphs" fill="#111" stroke="#111" stroke-width="0.2">PA31</text>
<text x="594.25" y="132.57" font-size="9.55" text-anchor="middle" textLength="19.137" lengthAdjust="spacingAndGlyphs" fill="#fff">95.0</text>
<text x="621.06" y="132.57" font-size="9.55" text-anchor="middle" textLength="18.862" lengthAdjust="spacingAndGlyphs" fill="#fff">82.1</text>
<text x="647.94" y="132.57" font-size="9.55" text-anchor="middle" textLength="19.045" lengthAdjust="spacingAndGlyphs" fill="#fff">88.9</text>
<text x="567.23" y="132.57" font-size="9.1" text-anchor="middle" textLength="20.955" lengthAdjust="spacingAndGlyphs" fill="#111" stroke="#111" stroke-width="0.2">PA44</text>
<text x="594.34" y="159.38" font-size="9.55" text-anchor="middle" textLength="19.045" lengthAdjust="spacingAndGlyphs" fill="#fff">87.9</text>
<text x="621.03" y="159.38" font-size="9.55" text-anchor="middle" textLength="19.102" lengthAdjust="spacingAndGlyphs" fill="#262626" stroke="#262626" stroke-width="0.15">69.3</text>
<text x="647.91" y="159.38" font-size="9.55" text-anchor="middle" textLength="18.979" lengthAdjust="spacingAndGlyphs" fill="#fff">86.4</text>
<text x="567.24" y="159.38" font-size="9.1" text-anchor="middle" textLength="21.007" lengthAdjust="spacingAndGlyphs" fill="#111" stroke="#111" stroke-width="0.2">PA49</text>
<text x="594.24" y="186.19" font-size="9.55" text-anchor="middle" textLength="19.126" lengthAdjust="spacingAndGlyphs" fill="#fff">91.4</text>
<text x="621.12" y="186.19" font-size="9.55" text-anchor="middle" textLength="18.989" lengthAdjust="spacingAndGlyphs" fill="#fff">80.0</text>
<text x="647.99" y="186.19" font-size="9.55" text-anchor="middle" textLength="19.137" lengthAdjust="spacingAndGlyphs" fill="#fff">84.6</text>
<text x="567.14" y="186.19" font-size="9.1" text-anchor="middle" textLength="20.778" lengthAdjust="spacingAndGlyphs" fill="#111" stroke="#111" stroke-width="0.2">PA55</text>
<text x="594.33" y="213.00" font-size="9.55" text-anchor="middle" textLength="24.657" lengthAdjust="spacingAndGlyphs" fill="#fff">100.0</text>
<text x="621.13" y="213.00" font-size="9.55" text-anchor="middle" textLength="24.657" lengthAdjust="spacingAndGlyphs" fill="#fff">100.0</text>
<text x="647.93" y="213.00" font-size="9.55" text-anchor="middle" textLength="24.657" lengthAdjust="spacingAndGlyphs" fill="#fff">100.0</text>
<text x="567.24" y="213.00" font-size="9.1" text-anchor="middle" textLength="21.003" lengthAdjust="spacingAndGlyphs" fill="#111" stroke="#111" stroke-width="0.2">PA56</text>
<text x="594.33" y="239.81" font-size="9.55" text-anchor="middle" textLength="24.657" lengthAdjust="spacingAndGlyphs" fill="#fff">100.0</text>
<text x="621.13" y="239.81" font-size="9.55" text-anchor="middle" textLength="24.657" lengthAdjust="spacingAndGlyphs" fill="#fff">100.0</text>
<text x="647.93" y="239.81" font-size="9.55" text-anchor="middle" textLength="24.657" lengthAdjust="spacingAndGlyphs" fill="#fff">100.0</text>
<text x="567.19" y="239.81" font-size="9.1" text-anchor="middle" textLength="20.871" lengthAdjust="spacingAndGlyphs" fill="#111" stroke="#111" stroke-width="0.2">PA57</text>
<text x="594.31" y="266.62" font-size="9.55" text-anchor="middle" textLength="19.287" lengthAdjust="spacingAndGlyphs" fill="#262626" stroke="#262626" stroke-width="0.15">68.6</text>
<text x="621.12" y="266.62" font-size="9.55" text-anchor="middle" textLength="19.000" lengthAdjust="spacingAndGlyphs" fill="#262626" stroke="#262626" stroke-width="0.15">32.9</text>
<text x="647.98" y="266.62" font-size="9.55" text-anchor="middle" textLength="19.137" lengthAdjust="spacingAndGlyphs" fill="#fff">89.6</text>
<text x="567.23" y="266.62" font-size="9.1" text-anchor="middle" textLength="20.958" lengthAdjust="spacingAndGlyphs" fill="#111" stroke="#111" stroke-width="0.2">PA58</text>
<text x="594.29" y="293.43" font-size="9.55" text-anchor="middle" textLength="19.240" lengthAdjust="spacingAndGlyphs" fill="#fff">96.8</text>
<text x="621.13" y="293.43" font-size="9.55" text-anchor="middle" textLength="24.657" lengthAdjust="spacingAndGlyphs" fill="#fff">100.0</text>
<text x="647.93" y="293.43" font-size="9.55" text-anchor="middle" textLength="24.657" lengthAdjust="spacingAndGlyphs" fill="#fff">100.0</text>
<text x="567.24" y="293.43" font-size="9.1" text-anchor="middle" textLength="21.003" lengthAdjust="spacingAndGlyphs" fill="#111" stroke="#111" stroke-width="0.2">PA66</text>
<text x="594.39" y="320.24" font-size="9.55" text-anchor="middle" textLength="19.137" lengthAdjust="spacingAndGlyphs" fill="#fff">84.6</text>
<text x="621.04" y="320.24" font-size="9.55" text-anchor="middle" textLength="19.126" lengthAdjust="spacingAndGlyphs" fill="#fff">90.4</text>
<text x="647.88" y="320.24" font-size="9.55" text-anchor="middle" textLength="18.908" lengthAdjust="spacingAndGlyphs" fill="#fff">87.5</text>
<text x="567.22" y="320.24" font-size="9.1" text-anchor="middle" textLength="20.958" lengthAdjust="spacingAndGlyphs" fill="#111" stroke="#111" stroke-width="0.2">PA68</text>
<text x="594.33" y="347.05" font-size="9.55" text-anchor="middle" textLength="24.657" lengthAdjust="spacingAndGlyphs" fill="#fff">100.0</text>
<text x="621.10" y="347.05" font-size="9.55" text-anchor="middle" textLength="18.954" lengthAdjust="spacingAndGlyphs" fill="#fff">84.3</text>
<text x="647.93" y="347.05" font-size="9.55" text-anchor="middle" textLength="24.657" lengthAdjust="spacingAndGlyphs" fill="#fff">100.0</text>
<text x="566.59" y="347.05" font-size="9.1" text-anchor="middle" textLength="21.906" lengthAdjust="spacingAndGlyphs" fill="#111" stroke="#111" stroke-width="0.2">PAO1</text>
<text x="594.33" y="373.86" font-size="9.55" text-anchor="middle" textLength="24.657" lengthAdjust="spacingAndGlyphs" fill="#fff">100.0</text>
<text x="621.07" y="373.86" font-size="9.55" text-anchor="middle" textLength="19.194" lengthAdjust="spacingAndGlyphs" fill="#fff">97.9</text>
<text x="647.93" y="373.86" font-size="9.55" text-anchor="middle" textLength="24.657" lengthAdjust="spacingAndGlyphs" fill="#fff">100.0</text>
<text x="567.15" y="373.86" font-size="9.1" text-anchor="middle" textLength="20.778" lengthAdjust="spacingAndGlyphs" fill="#111" stroke="#111" stroke-width="0.2">PA05</text>
<text x="594.29" y="400.67" font-size="9.55" text-anchor="middle" textLength="19.056" lengthAdjust="spacingAndGlyphs" fill="#262626" stroke="#262626" stroke-width="0.15">78.9</text>
<text x="621.07" y="400.67" font-size="9.55" text-anchor="middle" textLength="19.194" lengthAdjust="spacingAndGlyphs" fill="#fff">97.9</text>
<text x="647.81" y="400.67" font-size="9.55" text-anchor="middle" textLength="19.056" lengthAdjust="spacingAndGlyphs" fill="#fff">95.7</text>
<text x="567.21" y="400.67" font-size="9.1" text-anchor="middle" textLength="20.913" lengthAdjust="spacingAndGlyphs" fill="#111" stroke="#111" stroke-width="0.2">PA08</text>
<text x="594.31" y="427.48" font-size="9.55" text-anchor="middle" textLength="18.979" lengthAdjust="spacingAndGlyphs" fill="#fff">86.4</text>
<text x="621.04" y="427.48" font-size="9.55" text-anchor="middle" textLength="19.126" lengthAdjust="spacingAndGlyphs" fill="#fff">96.4</text>
<text x="647.87" y="427.48" font-size="9.55" text-anchor="middle" textLength="19.194" lengthAdjust="spacingAndGlyphs" fill="#fff">97.9</text>
<text x="567.23" y="427.48" font-size="9.1" text-anchor="middle" textLength="20.958" lengthAdjust="spacingAndGlyphs" fill="#111" stroke="#111" stroke-width="0.2">PA10</text>
<text x="594.27" y="454.29" font-size="9.55" text-anchor="middle" textLength="19.194" lengthAdjust="spacingAndGlyphs" fill="#fff">92.9</text>
<text x="620.98" y="454.29" font-size="9.55" text-anchor="middle" textLength="19.010" lengthAdjust="spacingAndGlyphs" fill="#fff">91.1</text>
<text x="647.83" y="454.29" font-size="9.55" text-anchor="middle" textLength="19.102" lengthAdjust="spacingAndGlyphs" fill="#fff">99.3</text>
<text x="567.23" y="454.29" font-size="9.1" text-anchor="middle" textLength="20.958" lengthAdjust="spacingAndGlyphs" fill="#111" stroke="#111" stroke-width="0.2">PA20</text>
<text x="594.29" y="481.10" font-size="9.55" text-anchor="middle" textLength="19.056" lengthAdjust="spacingAndGlyphs" fill="#262626" stroke="#262626" stroke-width="0.15">78.9</text>
<text x="621.11" y="481.10" font-size="9.55" text-anchor="middle" textLength="19.287" lengthAdjust="spacingAndGlyphs" fill="#262626" stroke="#262626" stroke-width="0.15">68.6</text>
<text x="647.93" y="481.10" font-size="9.55" text-anchor="middle" textLength="19.148" lengthAdjust="spacingAndGlyphs" fill="#262626" stroke="#262626" stroke-width="0.15">79.6</text>
<text x="567.17" y="481.10" font-size="9.1" text-anchor="middle" textLength="20.825" lengthAdjust="spacingAndGlyphs" fill="#111" stroke="#111" stroke-width="0.2">PA21</text>
<text x="594.23" y="507.91" font-size="9.55" text-anchor="middle" textLength="19.102" lengthAdjust="spacingAndGlyphs" fill="#fff">94.3</text>
<text x="621.01" y="507.91" font-size="9.55" text-anchor="middle" textLength="19.056" lengthAdjust="spacingAndGlyphs" fill="#fff">97.5</text>
<text x="647.93" y="507.91" font-size="9.55" text-anchor="middle" textLength="24.657" lengthAdjust="spacingAndGlyphs" fill="#fff">100.0</text>
<text x="567.24" y="507.91" font-size="9.1" text-anchor="middle" textLength="21.003" lengthAdjust="spacingAndGlyphs" fill="#111" stroke="#111" stroke-width="0.2">PA26</text>
<text x="594.14" y="534.73" font-size="9.55" text-anchor="middle" textLength="18.918" lengthAdjust="spacingAndGlyphs" fill="#262626" stroke="#262626" stroke-width="0.15">63.2</text>
<text x="621.01" y="534.73" font-size="9.55" text-anchor="middle" textLength="19.056" lengthAdjust="spacingAndGlyphs" fill="#262626" stroke="#262626" stroke-width="0.15">65.7</text>
<text x="647.92" y="534.73" font-size="9.55" text-anchor="middle" textLength="19.000" lengthAdjust="spacingAndGlyphs" fill="#262626" stroke="#262626" stroke-width="0.15">53.9</text>
<text x="567.24" y="534.73" font-size="9.1" text-anchor="middle" textLength="20.958" lengthAdjust="spacingAndGlyphs" fill="#111" stroke="#111" stroke-width="0.2">PA30</text>
<text x="594.28" y="561.53" font-size="9.55" text-anchor="middle" textLength="18.908" lengthAdjust="spacingAndGlyphs" fill="#fff">85.7</text>
<text x="621.11" y="561.53" font-size="9.55" text-anchor="middle" textLength="19.287" lengthAdjust="spacingAndGlyphs" fill="#fff">99.6</text>
<text x="647.91" y="561.53" font-size="9.55" text-anchor="middle" textLength="19.287" lengthAdjust="spacingAndGlyphs" fill="#fff">99.6</text>
<text x="567.19" y="561.53" font-size="9.1" text-anchor="middle" textLength="20.871" lengthAdjust="spacingAndGlyphs" fill="#111" stroke="#111" stroke-width="0.2">PA37</text>
<text x="594.31" y="588.35" font-size="9.55" text-anchor="middle" textLength="19.287" lengthAdjust="spacingAndGlyphs" fill="#fff">94.6</text>
<text x="621.07" y="588.35" font-size="9.55" text-anchor="middle" textLength="19.194" lengthAdjust="spacingAndGlyphs" fill="#fff">98.9</text>
<text x="647.76" y="588.35" font-size="9.55" text-anchor="middle" textLength="18.964" lengthAdjust="spacingAndGlyphs" fill="#fff">98.2</text>
<text x="567.25" y="588.35" font-size="9.1" text-anchor="middle" textLength="21.007" lengthAdjust="spacingAndGlyphs" fill="#111" stroke="#111" stroke-width="0.2">PA39</text>
<text transform="translate(596.90,618.74) rotate(-90)" font-size="9.1" text-anchor="middle" fill="#111" stroke="#111" stroke-width="0.2" textLength="33.206" lengthAdjust="spacingAndGlyphs">532 nm</text>
<text transform="translate(623.70,618.77) rotate(-90)" font-size="9.1" text-anchor="middle" fill="#111" stroke="#111" stroke-width="0.2" textLength="33.264" lengthAdjust="spacingAndGlyphs">785 nm</text>
<text transform="translate(650.50,635.95) rotate(-90)" font-size="9.1" text-anchor="middle" fill="#111" stroke="#111" stroke-width="0.2" textLength="67.735" lengthAdjust="spacingAndGlyphs">Multi-Excitation</text>
<path d="M578.90,76.25H580.90M578.90,103.06H580.90M578.90,129.88H580.90M578.90,156.69H580.90M578.90,183.50H580.90M578.90,210.30H580.90M578.90,237.11H580.90M578.90,263.92H580.90M578.90,290.73H580.90M578.90,317.54H580.90M578.90,344.35H580.90M578.90,371.16H580.90M578.90,397.97H580.90M578.90,424.78H580.90M578.90,451.59H580.90M578.90,478.40H580.90M578.90,505.21H580.90M578.90,532.02H580.90M578.90,558.83H580.90M578.90,585.64H580.90M594.30,599.05V601.05M621.10,599.05V601.05M647.90,599.05V601.05" stroke="#888" stroke-width="0.8" fill="none"/>
<path d="M553.50,76.25H543.50V317.55H553.50" fill="none" stroke="#555" stroke-width="1.0"/>
<text transform="translate(537.90,198.56) rotate(-90)" font-size="12.75" text-anchor="middle" fill="#111">Resistant</text>
<path d="M553.50,344.36H544.00V585.64H553.50" fill="none" stroke="#222" stroke-width="1.0"/>
<text transform="translate(537.90,463.51) rotate(-90)" font-size="12.75" text-anchor="middle" fill="#111">Sensitive</text>
</svg>
</body></html>
